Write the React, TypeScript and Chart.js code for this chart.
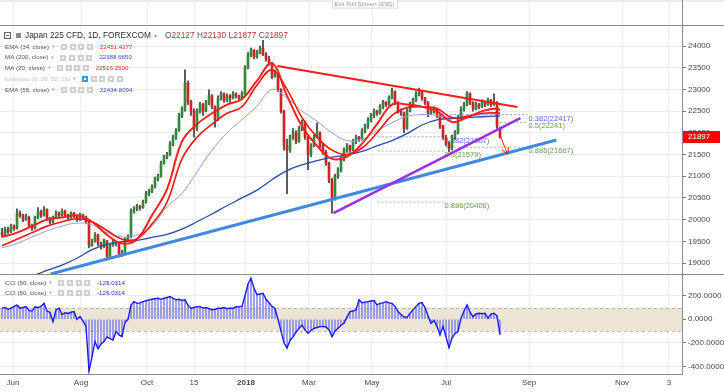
import React, { useEffect, useRef } from 'react';
import { Chart, registerables } from 'chart.js';

Chart.register(...registerables);

// ---------------- data ----------------
const symbolTitle = 'Japan 225 CFD, 1D, FOREXCOM';

const opens = [
  19700,19650,19780,19720,19850,19800,20150,20100,20000,20050,
  19850,19800,20050,20180,20100,20230,20000,19950,20050,20150,
  20100,20200,20100,20050,20150,20080,20000,20100,20050,19950,
  19400,19500,19650,19450,19380,19500,19150,19400,19480,19450,
  19200,19250,19550,19600,20200,20250,20300,20280,20400,20600,
  20650,20750,20950,21000,21300,21450,21500,21750,21900,22050,
  22400,22550,23150,22700,22500,22100,22500,22650,22500,22700,
  22850,22600,22300,22800,22900,22750,22850,22800,22900,22850,
  22800,22900,23500,23800,23900,23750,23850,23950,23800,23700,
  23600,23300,23350,23000,22500,21700,21600,21900,22000,21800,
  22100,22250,21900,21500,21700,21900,22000,21700,21550,21300,
  20900,20500,21000,21150,21400,21600,21700,21600,21800,21900,
  21850,22050,22150,22300,22400,22500,22450,22600,22700,22650,
  22800,22950,22700,22500,22450,22100,22500,22650,22750,22900,
  22950,22800,22700,22450,22500,22550,22400,22150,21900,21750,
  21650,21900,22000,22350,22550,22650,22900,22700,22550,22650,
  22600,22700,22650,22750,22650,22700,22127,
];
const highs = [
  19800,19820,19830,19900,19880,20250,20200,20130,20120,20080,
  19900,20080,20280,20220,20300,20250,20050,20080,20200,20180,
  20250,20220,20130,20180,20170,20100,20150,20130,20080,19970,
  19550,19700,19660,19480,19550,19520,19450,19530,19500,19460,
  19300,19580,19650,20250,20300,20350,20330,20450,20650,20700,
  20800,20980,21050,21350,21480,21550,21800,21950,22100,22450,
  22600,23450,23200,22750,22550,22550,22700,22680,22750,22990,
  22880,22620,22850,22950,22920,22900,22880,22950,22920,22870,
  22950,23550,23850,23950,23920,23900,24000,24130,23850,23760,
  23620,23450,23380,23020,22520,21850,21950,22100,22050,22150,
  22300,22270,21920,21750,21950,22230,22020,21750,21600,21320,
  20950,21050,21200,21450,21650,21750,21720,21850,21950,21920,
  22100,22200,22350,22450,22550,22520,22650,22750,22720,22850,
  23030,22970,22720,22550,22480,22550,22700,22800,22950,23030,
  22970,22820,22720,22550,22600,22570,22420,22170,21950,21800,
  21950,22050,22400,22600,22700,22950,22920,22720,22700,22680,
  22760,22720,22800,22770,22900,22720,22130,
];
const lows = [
  19600,19620,19680,19700,19750,19780,20050,19950,19980,19820,
  19750,19780,20020,20050,20080,19980,19900,19920,20030,20050,
  20080,20060,20000,20030,20040,19960,19980,20000,19900,19350,
  19380,19480,19400,19320,19350,19070,19120,19380,19400,19140,
  19150,19230,19500,19580,20150,20200,20220,20260,20380,20550,
  20620,20730,20900,20980,21280,21400,21480,21700,21850,22030,
  22350,22500,22650,22400,21900,22050,22450,22400,22480,22650,
  22550,22130,22280,22750,22700,22720,22700,22780,22800,22750,
  22780,22880,23480,23750,23700,23720,23820,23780,23650,23550,
  23250,23280,22950,22450,21600,20600,21550,21850,21750,21780,
  22050,21850,21150,21450,21680,21880,21650,21500,21250,20850,
  20150,20450,20950,21100,21350,21550,21550,21580,21750,21800,
  21830,22000,22100,22250,22350,22400,22430,22550,22600,22630,
  22780,22650,22450,22400,22000,22080,22480,22600,22720,22850,
  22750,22650,22370,22420,22450,22350,22100,21850,21700,21560,
  21600,21850,21980,22300,22500,22620,22650,22500,22530,22550,
  22580,22600,22630,22600,22630,22100,21877,
];
const closes = [
  19650,19780,19720,19850,19800,20150,20100,20000,20050,19850,
  19800,20050,20180,20100,20230,20000,19950,20050,20150,20100,
  20200,20100,20050,20150,20080,20000,20100,20050,19950,19400,
  19500,19650,19450,19380,19500,19150,19400,19480,19450,19200,
  19250,19550,19600,20200,20250,20300,20280,20400,20600,20650,
  20750,20950,21000,21300,21450,21500,21750,21900,22050,22400,
  22550,23150,22700,22500,22100,22500,22650,22500,22700,22850,
  22600,22300,22800,22900,22750,22850,22800,22900,22850,22800,
  22900,23500,23800,23900,23750,23850,23950,23800,23700,23600,
  23300,23350,23000,22500,21700,21600,21900,22000,21800,22100,
  22250,21900,21500,21700,21900,22000,21700,21550,21300,20900,
  20500,21000,21150,21400,21600,21700,21600,21800,21900,21850,
  22050,22150,22300,22400,22500,22450,22600,22700,22650,22800,
  22950,22700,22500,22450,22100,22500,22650,22750,22900,22950,
  22800,22700,22450,22500,22550,22400,22150,21900,21750,21650,
  21900,22000,22350,22550,22650,22900,22700,22550,22650,22600,
  22700,22650,22750,22650,22700,22150,21897,
];

// indicator values read at these bar indices
const indicatorBars = [0,5,10,15,20,25,30,35,40,45,50,55,60,65,70,75,80,85,90,95,100,105,110,115,120,125,130,135,140,145,150,155,160,165,166];
const ma200 = [18430,18560,18690,18830,18950,19110,19310,19430,19490,19520,19590,19660,19780,19950,20130,20320,20500,20680,20920,21130,21260,21360,21440,21490,21570,21700,21820,21980,22180,22300,22330,22350,22370,22385,22388];
const ema55 = [19350,19450,19600,19740,19850,19920,19880,19700,19600,19640,19850,20300,20600,21100,21600,22000,22300,22620,23000,22800,22500,22270,22000,21820,21850,22050,22230,22380,22420,22400,22330,22380,22420,22440,22434];
const ema34 = [19400,19550,19700,19850,19950,20020,19950,19750,19550,19560,19900,20400,21400,21900,22200,22450,22600,23100,23450,23000,22350,21900,21600,21500,21650,22000,22400,22580,22600,22560,22350,22380,22450,22460,22451];
const ma20 = [19600,19700,19850,20000,20050,20100,19950,19650,19450,19550,20100,20700,21800,22200,22450,22650,22780,23200,23600,22850,22150,21700,21400,21450,21750,22200,22650,22650,22600,22500,22250,22350,22500,22560,22516];

const cci = [
  95,100,85,95,110,120,95,100,108,75,
  70,105,100,110,136,70,60,-20,80,94,
  40,55,50,60,65,0,23,-15,-60,-440,
  -320,-190,-250,-210,-190,-150,-165,-176,-105,-133,
  -148,-25,0,120,150,136,140,150,158,165,
  170,175,179,170,179,185,193,180,165,170,
  160,165,120,94,100,108,108,95,100,90,
  80,85,94,94,100,90,95,94,105,108,
  110,200,300,349,264,210,215,221,170,140,
  110,90,0,-100,-200,-245,-180,-150,-110,-77,
  -50,-90,-119,-95,-77,-70,-62,-60,-65,-90,
  -148,-100,-77,-50,-34,20,65,70,80,165,
  140,145,150,155,159,122,135,140,150,140,
  136,110,65,40,20,15,50,80,110,135,
  142,100,30,-34,-10,-60,-133,-62,-148,-241,
  -160,-120,-105,9,70,122,60,23,45,51,
  48,51,9,45,51,30,-129,
];
const cciBand = [100, -100];

const legendNames = ['EMA (34, close)', 'MA (200, close)', 'MA (20, close)', 'Ichimoku (9, 26, 52, 26)', 'EMA (55, close)'];
const legendValues = ['22451.4277', '22388.6850', '22516.2500', '', '22434.8094'];
const cciLegendNames = ['CCI (50, close)', 'CCI (50, close)'];
const cciLegendValues = ['-129.0314', '-129.0314'];

const monthTicks = [3.67, 26.33, 48.33, 64, 81.33, 102.33, 123.33, 148, 175.67, 206.67, 222.33];
const monthLabels = ['Jun', 'Aug', 'Oct', '15', '2018', 'Mar', 'May', 'Jul', 'Sep', 'Nov', '3'];
const priceTicks = [19000, 19500, 20000, 20500, 21000, 21500, 22000, 22500, 23000, 23500, 24000];
const cciTicks = [200, 0, -200, -400];
const priceRange = [18747, 24484];
const cciRange = [-465, 385];
const barRange = [-2 / 3, 680 / 3];

// drawings (bar index, price)
const resistX = [91.8, 171.8];
const resistY = [23540, 22595];
const purpleX = [110.5, 172.8];
const purpleY = [20152, 22341];
const blueX = [16.2, 184.8];
const blueY = [18747, 21834];
const arrowX = [166, 168.5];
const arrowY = [21950, 21512];

const fibRatios = [0.382, 0.5, 0.886, 0.382, 0.5, 0.886];
const fibPrices = [22417, 22241, 21667, 21907, 21579, 20406];
const fibFrom = [148, 166, 148, 125.2, 125.2, 125.2];
const fibTo = [175.2, 175.2, 175.2, 147.2, 147.2, 147.2];

// ---------------- styles ----------------
const FONT = '"Liberation Sans", Arial, sans-serif';
const SYM = '"DejaVu Sans", sans-serif';
const legendColors = ['#ff2b2b', '#3552b8', '#ff2b2b', '', '#3552b8'];

function drawIcons(ctx: CanvasRenderingContext2D, x: number, y: number, n: number, blueFirst: boolean) {
  for (let k = 0; k < n; k++) {
    const ix = Math.round(x + k * 8.7);
    ctx.fillStyle = blueFirst && k === 0 ? '#2d9cf0' : '#d0d0d0';
    ctx.fillRect(ix, Math.round(y - 3), 6, 6);
    ctx.fillStyle = '#ffffff';
    ctx.fillRect(ix + 2, Math.round(y - 1), 2, 2);
  }
}

function drawRow(ctx: CanvasRenderingContext2D, name: string, value: string, y: number, nameColor: string, valueColor: string, n: number, blueFirst: boolean) {
  ctx.font = `6.2px ${FONT}`;
  ctx.fillStyle = nameColor;
  ctx.fillText(name, 5, y);
  const w = ctx.measureText(name).width;
  ctx.font = `5px ${SYM}`;
  ctx.fillStyle = '#a8a8a8';
  ctx.fillText('▾', 5 + w + 3, y);
  const ix = 5 + w + 12;
  drawIcons(ctx, ix, y, n, blueFirst);
  if (value) {
    ctx.font = `6.2px ${FONT}`;
    ctx.fillStyle = valueColor;
    ctx.fillText(value, ix + n * 8.7 + 4, y);
  }
}

const overlay = {
  id: 'overlay',
  beforeDatasetsDraw(chart: any) {
    const { ctx, chartArea } = chart;
    const xs = chart.scales.x;
    const ys = chart.scales.y;
    const cs = chart.scales.cci;
    ctx.save();
    const y1 = cs.getPixelForValue(cciBand[0]);
    const y2 = cs.getPixelForValue(cciBand[1]);
    ctx.fillStyle = '#ece4d4';
    ctx.fillRect(chartArea.left, y1, chartArea.right - chartArea.left, y2 - y1);
    ctx.strokeStyle = '#bdb6aa';
    ctx.lineWidth = 1;
    ctx.setLineDash([3, 3]);
    for (const yy of [y1, y2]) {
      ctx.beginPath();
      ctx.moveTo(chartArea.left, Math.round(yy) + 0.5);
      ctx.lineTo(chartArea.right, Math.round(yy) + 0.5);
      ctx.stroke();
    }
    ctx.setLineDash([]);
    ctx.font = `7.5px ${FONT}`;
    ctx.textBaseline = 'middle';
    ctx.textAlign = 'left';
    fibPrices.forEach((p, k) => {
      ctx.fillStyle = fibRatios[k] === 0.382 ? '#5a6ad6' : '#6b9d4b';
      ctx.fillText(`${fibRatios[k]}(${p})`, xs.getPixelForValue(fibTo[k]) + 1, ys.getPixelForValue(p) + 4);
    });
    ctx.restore();
  },
  afterDatasetsDraw(chart: any) {
    const { ctx } = chart;
    const xs = chart.scales.x;
    const ys = chart.scales.y;
    const p1x = xs.getPixelForValue(arrowX[0]);
    const p1y = ys.getPixelForValue(arrowY[0]);
    const p2x = xs.getPixelForValue(arrowX[1]);
    const p2y = ys.getPixelForValue(arrowY[1]);
    const ang = Math.atan2(p2y - p1y, p2x - p1x);
    ctx.save();
    ctx.strokeStyle = '#ff1a1a';
    ctx.lineWidth = 1;
    ctx.beginPath();
    for (const s of [-1, 1]) {
      const a = ang + Math.PI + s * 0.55;
      ctx.moveTo(p2x, p2y);
      ctx.lineTo(p2x + 7 * Math.cos(a), p2y + 7 * Math.sin(a));
    }
    ctx.stroke();
    ctx.restore();
  },
  afterDraw(chart: any) {
    const { ctx, chartArea } = chart;
    const xs = chart.scales.x;
    const ys = chart.scales.y;
    ctx.save();
    // top strip
    ctx.fillStyle = '#e9ebef';
    ctx.fillRect(0, 0, 724, 2);
    ctx.strokeStyle = '#efefef';
    ctx.lineWidth = 1;
    monthTicks.forEach((v) => {
      const px = Math.round(xs.getPixelForValue(v)) + 0.5;
      ctx.beginPath();
      ctx.moveTo(px, 2);
      ctx.lineTo(px, chartArea.top);
      ctx.stroke();
    });
    // frame
    ctx.strokeStyle = '#8c8c8c';
    const sep = Math.round(ys.bottom) + 0.5;
    ctx.beginPath();
    ctx.moveTo(0, chartArea.top + 0.5); ctx.lineTo(724, chartArea.top + 0.5);
    ctx.moveTo(0, sep); ctx.lineTo(724, sep);
    ctx.moveTo(0, chartArea.bottom + 0.5); ctx.lineTo(chartArea.right, chartArea.bottom + 0.5);
    ctx.moveTo(chartArea.right + 0.5, 0); ctx.lineTo(chartArea.right + 0.5, chartArea.bottom + 1);
    ctx.stroke();
    // exit full screen
    ctx.fillStyle = '#ffffff';
    ctx.fillRect(332, 0, 65, 8);
    ctx.strokeStyle = '#d8d8d8';
    ctx.strokeRect(332.5, -0.5, 65, 8.5);
    ctx.fillStyle = '#9a9a9a';
    ctx.font = `6px ${FONT}`;
    ctx.textAlign = 'center';
    ctx.textBaseline = 'middle';
    ctx.fillText('Exit Full Screen (ESC)', 364.5, 4);
    ctx.textAlign = 'left';
    // price tag
    const last = closes.length - 1;
    const yp = ys.getPixelForValue(closes[last]);
    ctx.fillStyle = '#ff0000';
    ctx.fillRect(chartArea.right + 1, Math.round(yp) - 6, 37, 12);
    ctx.fillStyle = '#ffffff';
    ctx.font = `8px ${FONT}`;
    ctx.fillText(String(closes[last]), chartArea.right + 6, Math.round(yp));
    // header legend
    ctx.strokeStyle = '#666';
    ctx.strokeRect(4.5, 32.5, 6, 6);
    ctx.beginPath(); ctx.moveTo(6, 35.5); ctx.lineTo(9, 35.5); ctx.stroke();
    ctx.fillStyle = '#8a8a8a';
    ctx.fillRect(16, 33, 5, 5);
    ctx.font = `8.3px ${FONT}`;
    ctx.fillStyle = '#2f2f2f';
    ctx.fillText(symbolTitle, 25, 36);
    const tw = ctx.measureText(symbolTitle).width;
    ctx.font = `6px ${SYM}`;
    ctx.fillStyle = '#999';
    ctx.fillText('▾', 25 + tw + 3, 36);
    const ohlc = [['O', opens[last]], ['H', highs[last]], ['L', lows[last]], ['C', closes[last]]];
    let ox = 165;
    ctx.font = `8.3px ${FONT}`;
    ohlc.forEach(([l, v]) => {
      ctx.fillStyle = '#555';
      ctx.fillText(String(l), ox, 36);
      ox += ctx.measureText(String(l)).width;
      ctx.fillStyle = '#a23a3a';
      ctx.fillText(String(v), ox, 36);
      ox += ctx.measureText(String(v)).width + 2.5;
    });
    const rowY = [47, 57.5, 68, 79, 90];
    legendNames.forEach((n, k) => {
      const ich = legendValues[k] === '';
      drawRow(ctx, n, legendValues[k], rowY[k], ich ? '#c4c4c4' : '#555', legendColors[k], ich ? 5 : 4, ich);
    });
    const cciY = [283, 293];
    cciLegendNames.forEach((n, k) => {
      drawRow(ctx, n, cciLegendValues[k], cciY[k], '#555', '#2e2ed6', 4, false);
    });
    ctx.restore();
  },
};

function lineSet(xsArr: number[], ysArr: number[], color: string, width: number, order: number, extra: any = {}) {
  return {
    type: 'line',
    data: xsArr.map((x, k) => ({ x, y: ysArr[k] })),
    borderColor: color,
    borderWidth: width,
    pointRadius: 0,
    fill: false,
    yAxisID: 'y',
    order,
    ...extra,
  };
}

export default function App() {
  const ref = useRef<HTMLCanvasElement>(null);
  useEffect(() => {
    document.body.style.margin = '0';
    const datasets: any[] = [];
    fibPrices.forEach((p, k) => {
      datasets.push(lineSet([fibFrom[k], fibTo[k]], [p, p], fibRatios[k] === 0.382 ? '#8a9ae8' : '#a3c98a', 1, 30, { borderDash: [2, 2] }));
    });
    datasets.push({
      type: 'bar', data: highs.map((h, i) => ({ x: i, y: [lows[i], h] })),
      backgroundColor: '#3a3a3a', barThickness: 1, grouped: false, yAxisID: 'y', order: 20,
    });
    datasets.push({
      type: 'bar', data: opens.map((o, i) => ({ x: i, y: [o, closes[i]] })),
      backgroundColor: closes.map((c, i) => (c >= opens[i] ? '#2f8a3a' : '#d42020')),
      barThickness: 2, grouped: false, minBarLength: 1, yAxisID: 'y', order: 19,
    });
    datasets.push(lineSet(indicatorBars, ma200, '#2a4aa6', 1.3, 12, { tension: 0.4 }));
    datasets.push(lineSet(indicatorBars, ema55, '#8ea2e0', 1, 12, { tension: 0.4 }));
    datasets.push(lineSet(indicatorBars, ema34, '#ee1515', 1.6, 11, { tension: 0.4 }));
    datasets.push(lineSet(indicatorBars, ma20, '#ff1f1f', 2, 10, { tension: 0.4 }));
    datasets.push(lineSet(blueX, blueY, '#4189e0', 3, 5));
    datasets.push(lineSet(purpleX, purpleY, '#9a2ff0', 2.5, 4));
    datasets.push(lineSet(resistX, resistY, '#ff1a1a', 2, 3));
    datasets.push(lineSet(arrowX, arrowY, '#ff1a1a', 1, 2));
    datasets.push({
      type: 'bar', data: cci.map((v, i) => ({ x: i, y: [0, v] })),
      backgroundColor: '#8c8ce8', barThickness: 1, grouped: false, yAxisID: 'cci', order: 16,
    });
    datasets.push({
      type: 'line', data: cci.map((v, i) => ({ x: i, y: v })),
      borderColor: '#1a1aff', borderWidth: 1.4, pointRadius: 0, fill: false, yAxisID: 'cci', order: 15,
    });

    const chart = new Chart(ref.current as HTMLCanvasElement, {
      type: 'line',
      data: { datasets },
      plugins: [overlay],
      options: {
        responsive: false,
        animation: false,
        devicePixelRatio: 1,
        events: [],
        layout: { padding: { top: 25, left: 0, right: 0, bottom: 0 } },
        plugins: { legend: { display: false }, tooltip: { enabled: false } },
        scales: {
          x: {
            type: 'linear', min: barRange[0], max: barRange[1], bounds: 'data', offset: false,
            grid: { color: '#efefef', drawTicks: false, offset: false },
            border: { display: false },
            afterBuildTicks: (s: any) => { s.ticks = monthTicks.map((v) => ({ value: v })); },
            afterFit: (s: any) => { s.height = 18; },
            ticks: {
              autoSkip: false, maxRotation: 0, padding: 4, color: '#4a4a4a',
              font: (c: any) => ({ family: FONT, size: 8, weight: c.index === 4 ? 'bold' : 'normal' }),
              callback: (_v: any, i: number) => monthLabels[i],
            },
          },
          y: {
            type: 'linear', position: 'right', stack: 'panes', stackWeight: 249,
            min: priceRange[0], max: priceRange[1], bounds: 'data',
            grid: { color: '#ececec', tickLength: 4, tickColor: '#777' },
            border: { display: false },
            afterBuildTicks: (s: any) => { s.ticks = priceTicks.map((v) => ({ value: v })); },
            afterFit: (s: any) => { s.width = 42; },
            ticks: { padding: 2, color: '#4a4a4a', font: { family: FONT, size: 8 }, callback: (v: any) => String(v) },
          },
          cci: {
            type: 'linear', position: 'right', stack: 'panes', stackWeight: 100,
            min: cciRange[0], max: cciRange[1], bounds: 'data',
            grid: { color: '#ececec', tickLength: 4, tickColor: '#777' },
            border: { display: false },
            afterBuildTicks: (s: any) => { s.ticks = cciTicks.map((v) => ({ value: v })); },
            afterFit: (s: any) => { s.width = 42; },
            ticks: { padding: 2, color: '#4a4a4a', font: { family: FONT, size: 8 }, callback: (v: any) => Number(v).toFixed(4) },
          },
        },
      } as any,
    } as any);
    return () => chart.destroy();
  }, []);
  return (
    <div style={{ width: 724, height: 392, position: 'relative' }}>
      <canvas ref={ref} width={724} height={392} style={{ display: 'block' }} />
    </div>
  );
}
